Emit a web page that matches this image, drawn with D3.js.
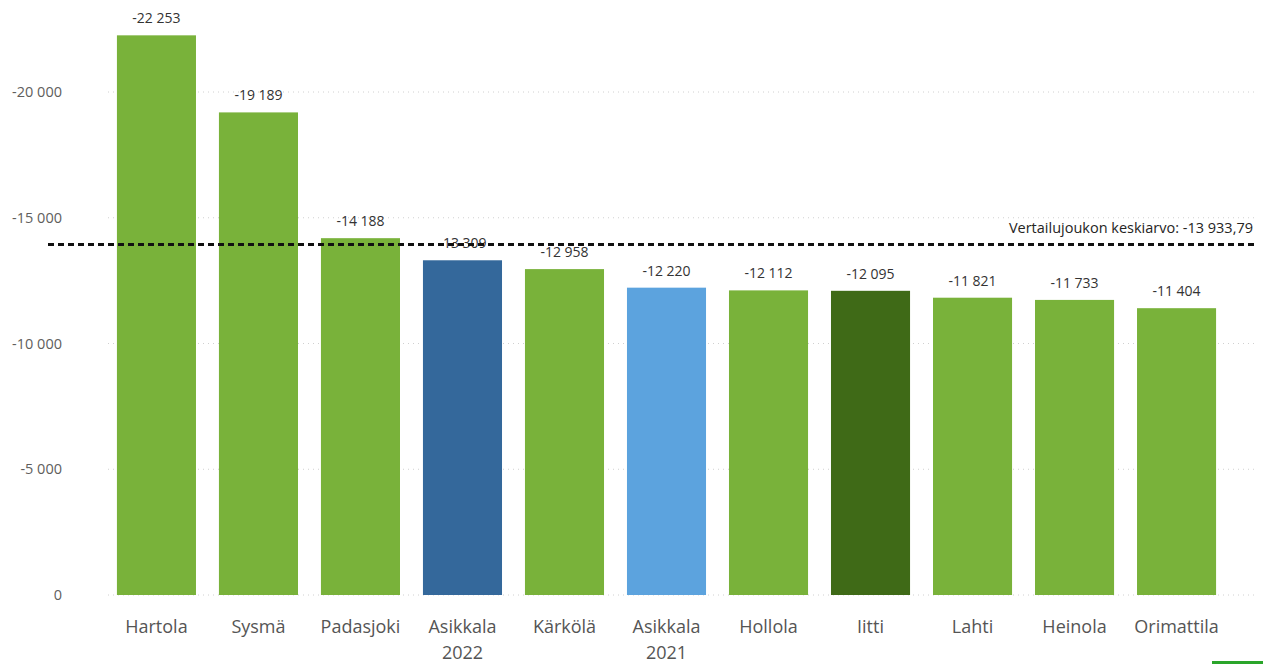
<!DOCTYPE html>
<html><head><meta charset="utf-8">
<script src="https://cdn.jsdelivr.net/npm/d3@7"></script>
<style>body{margin:0;background:#fff;font-family:"Segoe UI","Open Sans",sans-serif;}</style>
</head><body><svg id="c" width="1263" height="664"></svg>
<script>
const categories = ["Hartola","Sysmä","Padasjoki","Asikkala\n2022","Kärkölä","Asikkala\n2021","Hollola","Iitti","Lahti","Heinola","Orimattila"];
const values = [-22253,-19189,-14188,-13309,-12958,-12220,-12112,-12095,-11821,-11733,-11404];
const barColors = ["#79b23a","#79b23a","#79b23a","#34689b","#79b23a","#5ca3de","#79b23a","#3f6a17","#79b23a","#79b23a","#79b23a"];
const yTicks = [0,-5000,-10000,-15000,-20000];
const average = -13933.79;
const averageLabel = "Vertailujoukon keskiarvo: -13 933,79";

const svg = d3.select("#c");
const fmt = v => (v<0?"-":"") + d3.format(",")(Math.abs(v)).replace(/,/g," ");
const x = d3.scaleBand().domain(categories).range([105.5,1227.5]).paddingInner(0.225).paddingOuter(0.112);
const y = d3.scaleLinear().domain([0,-20000]).range([595,92]);

// gridlines
svg.append("g").selectAll("line").data(yTicks).join("line")
  .attr("x1",108).attr("x2",1258).attr("y1",d=>y(d)).attr("y2",d=>y(d))
  .attr("stroke","#d0d0d0").attr("stroke-width",1).attr("stroke-dasharray","1,4");
svg.append("g").selectAll("text").data(yTicks).join("text")
  .attr("x",62).attr("y",d=>y(d)).attr("dy","0.35em").attr("text-anchor","end")
  .attr("font-size",14.5).attr("fill","#605e5c").text(d=>fmt(d));

// bars
svg.append("g").selectAll("rect").data(values).join("rect")
  .attr("x",(d,i)=>x(categories[i])).attr("width",x.bandwidth())
  .attr("y",d=>y(d)).attr("height",d=>y(0)-y(d)).attr("fill",(d,i)=>barColors[i]);

// value labels
svg.append("g").selectAll("text").data(values).join("text")
  .attr("x",(d,i)=>x(categories[i])+x.bandwidth()/2).attr("y",d=>y(d)-12)
  .attr("text-anchor","middle").attr("font-size",14).attr("fill","#333")
  .text(d=>fmt(d));

// x labels
const xl = svg.append("g").selectAll("text").data(categories).join("text")
  .attr("x",d=>x(d)+x.bandwidth()/2).attr("y",633)
  .attr("text-anchor","middle").attr("font-size",18).attr("fill","#555");
xl.each(function(d){
  const t=d3.select(this); d.split("\n").forEach((s,i)=>t.append("tspan").attr("x",x(d)+x.bandwidth()/2).attr("dy",i?26:0).text(s));
});

// average line
svg.append("line").attr("x1",48).attr("x2",1258).attr("y1",y(average)).attr("y2",y(average))
  .attr("stroke","#111").attr("stroke-width",3).attr("stroke-dasharray","6,4");
svg.append("text").attr("x",1253).attr("y",y(average)-12).attr("text-anchor","end")
  .attr("font-size",14.5).attr("fill","#252423").text(averageLabel);

svg.append("rect").attr("x",1212).attr("y",661).attr("width",51).attr("height",3).attr("fill","#2aa52a");
</script></body></html>
